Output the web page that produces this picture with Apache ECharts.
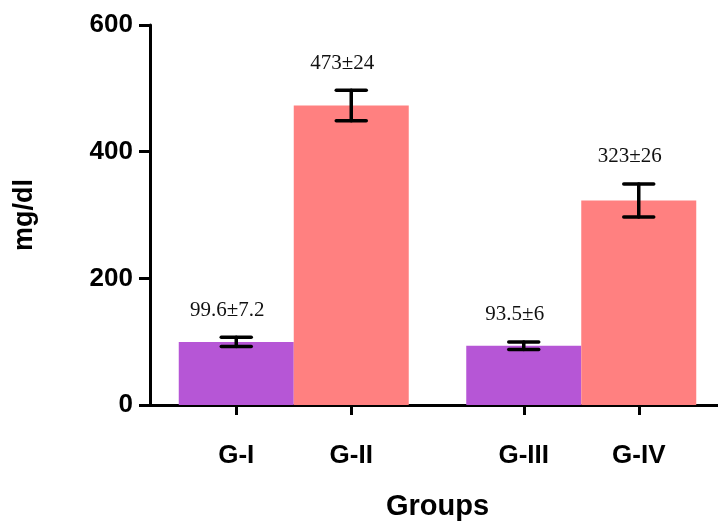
<!DOCTYPE html>
<html>
<head>
<meta charset="utf-8">
<style>
  html, body { margin: 0; padding: 0; background: #fff; }
  #chart { width: 718px; height: 522px; }
</style>
<script src="https://cdn.jsdelivr.net/npm/echarts@6/dist/echarts.min.js"></script>
</head>
<body>
<div id="chart"></div>
<script>
// Group names, mean values and standard deviations (mg/dl)
const groups = ['G-I', 'G-II', 'G-III', 'G-IV'];
const means = [99.6, 473, 93.5, 323];
const sds = [7.2, 24, 6, 26];
const meanText = ['99.6', '473', '93.5', '323'];
const sdText = ['7.2', '24', '6', '26'];
const barColors = ['#b656d6', '#ff8080', '#b656d6', '#ff8080'];
const yTicks = [0, 200, 400, 600];

// The x axis is split into half-bar slots; each bar covers two slots and
// the two pairs are separated by one extra slot.
const slotOfGroup = [1, 3, 6, 8];
const slotCount = 10;
const slots = [];
for (let i = 0; i < slotCount; i++) slots.push('s' + i);
const slotLabel = {};
groups.forEach((g, i) => { slotLabel['s' + slotOfGroup[i]] = g; });

const barData = slots.map(() => null);
groups.forEach((g, i) => {
  barData[slotOfGroup[i]] = { value: means[i], itemStyle: { color: barColors[i] } };
});
const errData = groups.map((g, i) => [slotOfGroup[i], means[i], sds[i], i]);

const axisFont = 'Liberation Sans, Arial';

const chart = echarts.init(document.getElementById('chart'), null, { renderer: 'canvas' });
chart.setOption({
  animation: false,
  backgroundColor: '#ffffff',
  grid: { left: 150, top: 25, width: 575, bottom: 117, containLabel: false, outerBoundsMode: 'none' },
  xAxis: {
    type: 'category',
    data: slots,
    boundaryGap: true,
    name: 'Groups',
    nameLocation: 'middle',
    nameGap: 87,
    nameTextStyle: { fontFamily: axisFont, fontWeight: 'bold', fontSize: 29, color: '#000' },
    axisLine: { show: true, lineStyle: { color: '#000', width: 3 } },
    axisTick: {
      show: true, alignWithLabel: true, length: 10,
      lineStyle: { color: '#000', width: 3 },
      interval: (idx, val) => slotLabel[val] !== undefined
    },
    axisLabel: {
      interval: 0,
      margin: 38,
      fontFamily: axisFont, fontWeight: 'bold', fontSize: 26, color: '#000',
      formatter: (val) => slotLabel[val] || ''
    },
    splitLine: { show: false }
  },
  yAxis: {
    type: 'value',
    min: yTicks[0], max: yTicks[yTicks.length - 1], interval: yTicks[1] - yTicks[0],
    name: 'mg/dl',
    nameLocation: 'middle',
    nameGap: 112,
    nameRotate: 90,
    nameTextStyle: { fontFamily: axisFont, fontWeight: 'bold', fontSize: 27, color: '#000' },
    axisLine: { show: true, lineStyle: { color: '#000', width: 3 } },
    axisTick: { show: true, length: 11, lineStyle: { color: '#000', width: 3 } },
    axisLabel: { margin: 17, fontFamily: axisFont, fontWeight: 'bold', fontSize: 26, color: '#000' },
    splitLine: { show: false }
  },
  series: [
    {
      type: 'bar',
      data: barData,
      barWidth: 115,
      barGap: '0%'
    },
    {
      type: 'custom',
      data: errData,
      encode: { x: 0, y: 1 },
      z: 5,
      renderItem: function (params, api) {
        const slot = api.value(0);
        const m = api.value(1);
        const s = api.value(2);
        const idx = api.value(3);
        const top = api.coord([slot, m + s]);
        const bot = api.coord([slot, m - s]);
        const half = 15;
        const ls = { stroke: '#000', lineWidth: 3.5, lineCap: 'round' };
        return {
          type: 'group',
          children: [
            { type: 'line', shape: { x1: top[0], y1: top[1], x2: bot[0], y2: bot[1] }, style: ls },
            { type: 'line', shape: { x1: top[0] - half, y1: top[1], x2: top[0] + half, y2: top[1] }, style: ls },
            { type: 'line', shape: { x1: bot[0] - half, y1: bot[1], x2: bot[0] + half, y2: bot[1] }, style: ls },
            {
              type: 'text',
              style: {
                x: top[0] - 9, y: top[1] - 27,
                text: meanText[idx] + '±' + sdText[idx],
                fill: '#111',
                font: '21px "Liberation Serif", "Times New Roman", serif',
                align: 'center', verticalAlign: 'middle'
              }
            }
          ]
        };
      }
    }
  ]
});
</script>
</body>
</html>
